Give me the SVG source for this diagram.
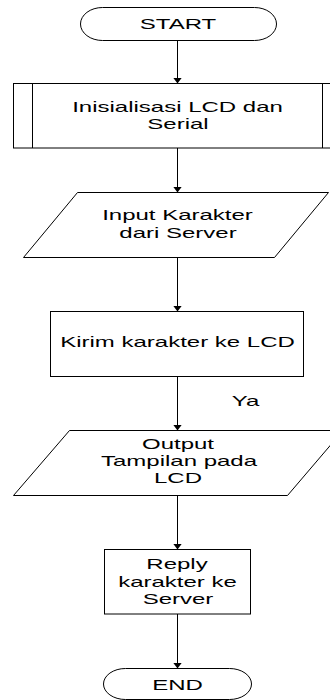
<svg xmlns="http://www.w3.org/2000/svg" width="330" height="700" viewBox="0 0 330 700">
<style>
.s{fill:#fff;stroke:#000;stroke-width:1}
.c{fill:none;stroke:#000;stroke-width:1}
.t{font-family:"Liberation Sans",Arial,sans-serif;font-size:15px;fill:#000;text-anchor:middle}
</style>
<defs>
<marker id="ah" viewBox="0 0 6 9" refX="6" refY="4.5" markerWidth="6" markerHeight="9" orient="auto" markerUnits="userSpaceOnUse">
<path d="M0,0 L6,4.5 L0,9 z" fill="#000"/>
</marker>
</defs>
<rect width="330" height="700" fill="#fff"/>
<g id="connectors">
<line class="c" x1="177.5" y1="40.5" x2="177.5" y2="83.5" marker-end="url(#ah)"/>
<line class="c" x1="177.5" y1="148" x2="177.5" y2="192.5" marker-end="url(#ah)"/>
<line class="c" x1="177.5" y1="257.5" x2="177.5" y2="311.5" marker-end="url(#ah)"/>
<line class="c" x1="177.5" y1="376.5" x2="177.5" y2="430.5" marker-end="url(#ah)"/>
<line class="c" x1="177.5" y1="495.5" x2="177.5" y2="549.5" marker-end="url(#ah)"/>
<line class="c" x1="177.5" y1="614" x2="177.5" y2="668.5" marker-end="url(#ah)"/>
<text class="t" transform="translate(245.5,406) scale(1.6,1)">Ya</text>
</g>
<g id="start">
<rect class="s" x="80.5" y="7.5" width="196" height="33" rx="22" ry="16.5"/>
<text class="t" transform="translate(178,29) scale(1.6,1)">START</text>
</g>
<g id="init">
<rect class="s" x="13.5" y="83.5" width="328" height="64.5"/>
<line class="c" x1="32.5" y1="83.5" x2="32.5" y2="148"/>
<line class="c" x1="322.5" y1="83.5" x2="322.5" y2="148"/>
<text class="t" transform="translate(177.5,112) scale(1.6,1)">Inisialisasi LCD dan</text>
<text class="t" transform="translate(178,129) scale(1.6,1)">Serial</text>
</g>
<g id="input">
<polygon class="s" points="77.5,192.5 328.5,192.5 274.5,257.5 23.5,257.5"/>
<text class="t" transform="translate(177.5,220) scale(1.6,1)">Input Karakter</text>
<text class="t" transform="translate(178,237.5) scale(1.6,1)">dari Server</text>
</g>
<g id="kirim">
<rect class="s" x="50.5" y="311.5" width="253" height="65"/>
<text class="t" transform="translate(177.5,346.5) scale(1.6,1)">Kirim karakter ke LCD</text>
</g>
<g id="output">
<polygon class="s" points="69.5,430.5 343,430.5 287.5,495.5 13.5,495.5"/>
<text class="t" transform="translate(178,449) scale(1.6,1)">Output</text>
<text class="t" transform="translate(179,466) scale(1.6,1)">Tampilan pada</text>
<text class="t" transform="translate(178,483) scale(1.6,1)">LCD</text>
</g>
<g id="reply">
<rect class="s" x="104.5" y="549.5" width="146" height="64.5"/>
<text class="t" transform="translate(177,569) scale(1.6,1)">Reply</text>
<text class="t" transform="translate(177.5,586.5) scale(1.6,1)">karakter ke</text>
<text class="t" transform="translate(178,604) scale(1.6,1)">Server</text>
</g>
<g id="end">
<rect class="s" x="103.5" y="668.5" width="148" height="31" rx="22" ry="15.5"/>
<text class="t" transform="translate(177.5,690) scale(1.6,1)">END</text>
</g>
</svg>
